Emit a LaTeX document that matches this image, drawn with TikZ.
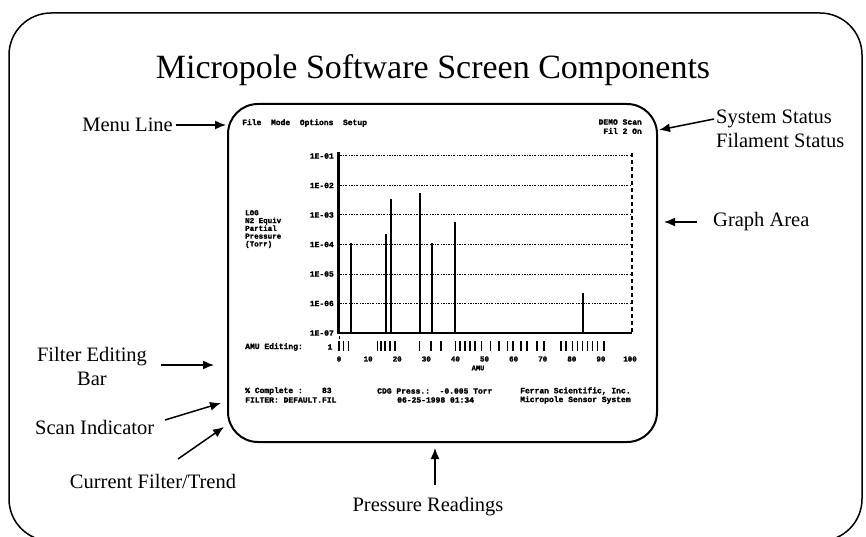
\documentclass[tikz,border=0pt]{standalone}
\usepackage{fontspec}
\setmainfont{Liberation Serif}
\newfontfamily\scrfont{Liberation Mono}[BoldFeatures={FakeBold=2}]
\usetikzlibrary{arrows.meta}

\begin{document}
\begin{tikzpicture}[x=1pt,y=-1pt,
  label/.style={font=\fontsize{20.5}{24}\selectfont, inner sep=0pt},
  callout/.style={line width=1.5pt, -{Latex[length=11pt,width=9pt]}},
  scr/.style={font=\scrfont\bfseries\fontsize{8}{8.5}\selectfont, inner sep=0pt},
  gridline/.style={line width=1pt, dash pattern=on 2pt off 1.3pt on 0.8pt off 1.3pt},
  peak/.style={line width=2pt},
  fticks/.style={line width=1.4pt}]
\useasboundingbox (0,0) rectangle (866,537);

% outer frame
\draw[line width=1.5pt, rounded corners=42pt] (9,13) rectangle (862,541);

% title
\node[font=\fontsize{34}{40}\selectfont, inner sep=0pt, anchor=base] (title) at (433,79)
  {Micropole Software Screen Components};

% screen outline
\draw[line width=2pt, rounded corners=30pt] (228,104) rectangle (657,442);

% menu line and status
\node[scr, anchor=west] (menu) at (242,123) {File~~Mode~~Options~~Setup};
\node[scr, anchor=east] (sysstat) at (642,122) {DEMO Scan};
\node[scr, anchor=east] (filstat) at (642,131) {Fil 2 On};

% y axis caption
\node[scr, anchor=north west, align=left, font=\scrfont\bfseries\fontsize{7.5}{7.8}\selectfont]
  (ycap) at (245,210) {LOG\\N2 Equiv\\Partial\\Pressure\\(Torr)};

% decade labels and grid lines
\foreach \k/\lab in {0/1E-01,1/1E-02,2/1E-03,3/1E-04,4/1E-05,5/1E-06,6/1E-07}{
  \node[scr, anchor=east] (dec\k) at (334,156+29.5*\k) {\lab};
}
\foreach \k in {0,...,5}{
  \draw[gridline] (340,156+29.5*\k) -- (631,156+29.5*\k);
}
% right border of the graph
\draw[line width=2.2pt, dash pattern=on 4pt off 3pt] (632,153) -- (632,333);
% axes
\draw[line width=3pt] (338,152) -- (338,334);
\draw[line width=2.4pt] (337,333) -- (632,333);

% spectrum peaks (mass / top)
\foreach \m/\t in {4/243,16/234,18/199,28/193,32/243,40/222,84/293}{
  \draw[peak] (339+2.91*\m,333) -- (339+2.91*\m,\t);
}

% filter editing bar
\node[scr, anchor=west] (amuedit) at (245,347) {AMU Editing:};
\node[scr] (one) at (330,347) {1};
\foreach \m in {0,1.5,3.2,13.3,14.4,15.8,17.5,19.2,27.6,31.6,35.1,40,41.6,43.3,45,46.7,49,52,55,57.8,59.8,62.5,64.6,68,70.5,76.3,78,80.2,82,83.6,85.4,87.1,88.8,91.1}{
  \draw[fticks] (339+2.91*\m,341) -- (339+2.91*\m,351);
}
\draw[line width=1pt] (339.5,336) -- (339.5,338.5);

% mass axis labels
\foreach \k in {0,10,...,100}{
  \node[scr, font=\scrfont\bfseries\fontsize{7.5}{8}\selectfont] (mx\k) at (339+2.91*\k,359) {\k};
}
\node[scr, font=\scrfont\bfseries\fontsize{7}{8}\selectfont] (amu) at (478,368) {AMU};

% status lines
\node[scr, anchor=west] (complete) at (245,391) {\%~Complete~:~~~~83};
\node[scr, anchor=west] (cdg) at (377,391) {CDG~Press.:~~-0.005~Torr};
\node[scr, anchor=west] (ferran) at (520,391) {Ferran Scientific, Inc.};
\node[scr, anchor=west] (filter) at (245,400) {FILTER: DEFAULT.FIL};
\node[scr, anchor=west] (date) at (397,400) {06-25-1998 01:34};
\node[scr, anchor=west] (sensor) at (520,400) {Micropole Sensor System};

% callout labels
\node[label, anchor=east] (menulbl) at (173,125) {Menu Line};
\node[label, anchor=west, align=left] (statlbl) at (716,129) {System Status\\Filament Status};
\node[label, anchor=west] (graphlbl) at (713,222) {Graph Area};
\node[label, align=center] (filtlbl) at (92,366) {Filter Editing\\Bar};
\node[label, anchor=west] (scanlbl) at (35,427) {Scan Indicator};
\node[label] (curlbl) at (153,481) {Current Filter/Trend};
\node[label] (preslbl) at (428,507) {Pressure Readings};

% callout arrow ends
\coordinate (menuA) at (176,125);
\coordinate (menuB) at (226,125);
\coordinate (statA) at (714,119);
\coordinate (statB) at (659,130);
\coordinate (graphA) at (697,222);
\coordinate (graphB) at (664,222);
\coordinate (filtA) at (161,365);
\coordinate (filtB) at (214,365);
\coordinate (scanA) at (165,420);
\coordinate (scanB) at (221,403);
\coordinate (curA) at (178,459);
\coordinate (curB) at (224,427);
\coordinate (presA) at (435,485);
\coordinate (presB) at (435,448);

\draw[callout] (menuA) -- (menuB);
\draw[callout] (statA) -- (statB);
\draw[callout] (graphA) -- (graphB);
\draw[callout] (filtA) -- (filtB);
\draw[callout] (scanA) -- (scanB);
\draw[callout] (curA) -- (curB);
\draw[callout] (presA) -- (presB);
\end{tikzpicture}
\end{document}
